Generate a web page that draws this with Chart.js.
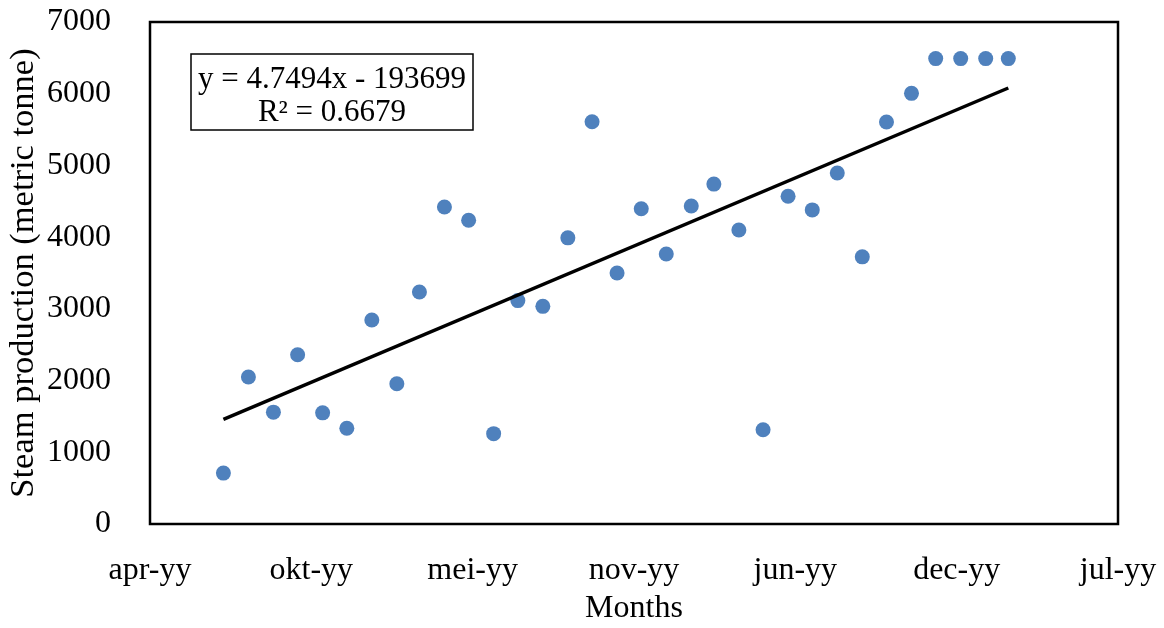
<!DOCTYPE html>
<html>
<head>
<meta charset="utf-8">
<title>Steam production</title>
<script src="https://cdn.jsdelivr.net/npm/chart.js@4.4.1/dist/chart.umd.min.js"></script>
<style>
  html, body { margin: 0; padding: 0; background: #ffffff; }
  #wrap { width: 1164px; height: 628px; position: relative; }
</style>
</head>
<body>
<div id="wrap"><canvas id="chart" width="1164" height="628"></canvas></div>
<script>
// Monthly steam production, metric tonne
const months = [
  '2012-07', '2012-08', '2012-09', '2012-10', '2012-11', '2012-12',
  '2013-01', '2013-02', '2013-03', '2013-04', '2013-05', '2013-06',
  '2013-07', '2013-08', '2013-09', '2013-10', '2013-11', '2013-12',
  '2014-01', '2014-02', '2014-03', '2014-04', '2014-05', '2014-06',
  '2014-07', '2014-08', '2014-09', '2014-10', '2014-11', '2014-12',
  '2015-01', '2015-02', '2015-03'
];
const steam = [
  710, 2050, 1560, 2360, 1550, 1335,
  2845, 1955, 3235, 4420, 4235, 1260,
  3115, 3035, 3990, 5610, 3500, 4395,
  3765, 4435, 4740, 4100, 1315, 4570,
  4380, 4895, 3725, 5605, 6005, 6490,
  6490, 6490, 6490
];

// Date axis: spreadsheet serial day numbers, one label every 200 days
const xTickLabels = ['apr-yy', 'okt-yy', 'mei-yy', 'nov-yy', 'jun-yy', 'dec-yy', 'jul-yy'];
const xAxisMin = 41000;
const xAxisStep = 200;
const yTickValues = [0, 1000, 2000, 3000, 4000, 5000, 6000, 7000];

// Linear trendline
const trendSlope = 4.7494;
const trendIntercept = -193699;
const trendR2 = 0.6679;

const SERIAL_EPOCH = Date.UTC(1899, 11, 30);
function toSerial(ym) {
  const [y, m] = ym.split('-').map(Number);
  return Math.round((Date.UTC(y, m - 1, 1) - SERIAL_EPOCH) / 86400000);
}

const xs = months.map(toSerial);
const points = xs.map((x, i) => ({ x: x, y: steam[i] }));
const xFirst = xs[0], xLast = xs[xs.length - 1];
const trendPoints = [xFirst, xLast].map(x => ({ x: x, y: trendSlope * x + trendIntercept }));

const FONT = 'Liberation Serif';

// Frame around the plot area
const plotFrame = {
  id: 'plotFrame',
  afterDraw(chart) {
    const { ctx, chartArea: a } = chart;
    ctx.save();
    ctx.strokeStyle = '#000000';
    ctx.lineWidth = 2.5;
    ctx.strokeRect(a.left, a.top, a.right - a.left, a.bottom - a.top);
    ctx.restore();
  }
};

// Trendline equation box
const equationBox = {
  id: 'equationBox',
  afterDraw(chart) {
    const { ctx } = chart;
    const bx = 191, by = 54, bw = 282, bh = 76;
    ctx.save();
    ctx.fillStyle = '#ffffff';
    ctx.fillRect(bx, by, bw, bh);
    ctx.strokeStyle = '#000000';
    ctx.lineWidth = 1.5;
    ctx.strokeRect(bx, by, bw, bh);
    ctx.fillStyle = '#000000';
    ctx.font = `31px "${FONT}"`;
    ctx.textAlign = 'center';
    ctx.textBaseline = 'alphabetic';
    const sign = trendIntercept < 0 ? '-' : '+';
    ctx.fillText(`y = ${trendSlope}x ${sign} ${Math.abs(trendIntercept)}`, bx + bw / 2, by + 34);
    ctx.fillText(`R\u00B2 = ${trendR2}`, bx + bw / 2, by + 67);
    ctx.restore();
  }
};

new Chart(document.getElementById('chart'), {
  type: 'scatter',
  data: {
    datasets: [
      {
        label: 'Steam production',
        data: points,
        backgroundColor: '#4F81BD',
        borderColor: '#4F81BD',
        borderWidth: 0,
        pointRadius: 7.5,
        pointHoverRadius: 7.5,
        order: 2
      },
      {
        label: 'Linear trend',
        type: 'line',
        data: trendPoints,
        borderColor: '#000000',
        borderWidth: 3.5,
        pointRadius: 0,
        fill: false,
        order: 1
      }
    ]
  },
  options: {
    responsive: false,
    animation: false,
    devicePixelRatio: 1,
    layout: { padding: { top: 22, right: 46, bottom: 0, left: 0 } },
    plugins: {
      legend: { display: false },
      tooltip: { enabled: false }
    },
    scales: {
      x: {
        type: 'linear',
        min: xAxisMin,
        max: xAxisMin + xAxisStep * (xTickLabels.length - 1),
        grid: { display: false },
        border: { display: false },
        ticks: {
          stepSize: xAxisStep,
          color: '#000000',
          font: { family: FONT, size: 32 },
          padding: 19,
          maxRotation: 0,
          autoSkip: false,
          callback: v => xTickLabels[Math.round((v - xAxisMin) / xAxisStep)]
        },
        title: {
          display: true,
          text: 'Months',
          color: '#000000',
          font: { family: FONT, size: 32 },
          padding: { top: 0, bottom: 0 }
        },
        afterFit: s => {
          s.height = 104;
          s.paddingLeft = 0;
          s.paddingRight = 0;
        }
      },
      y: {
        min: 0,
        max: 7000,
        grid: { display: false },
        border: { display: false },
        ticks: {
          stepSize: 1000,
          color: '#000000',
          font: { family: FONT, size: 32 },
          padding: 31,
          autoSkip: false,
          callback: v => (yTickValues.includes(v) ? String(v) : '')
        },
        title: {
          display: true,
          text: 'Steam production (metric tonne)',
          color: '#000000',
          font: { family: FONT, size: 34.5 },
          padding: { top: 3, bottom: 0 }
        },
        afterFit: s => {
          s.width = 150;
          s.paddingTop = 0;
          s.paddingBottom = 0;
        }
      }
    }
  },
  plugins: [plotFrame, equationBox]
});
</script>
</body>
</html>
